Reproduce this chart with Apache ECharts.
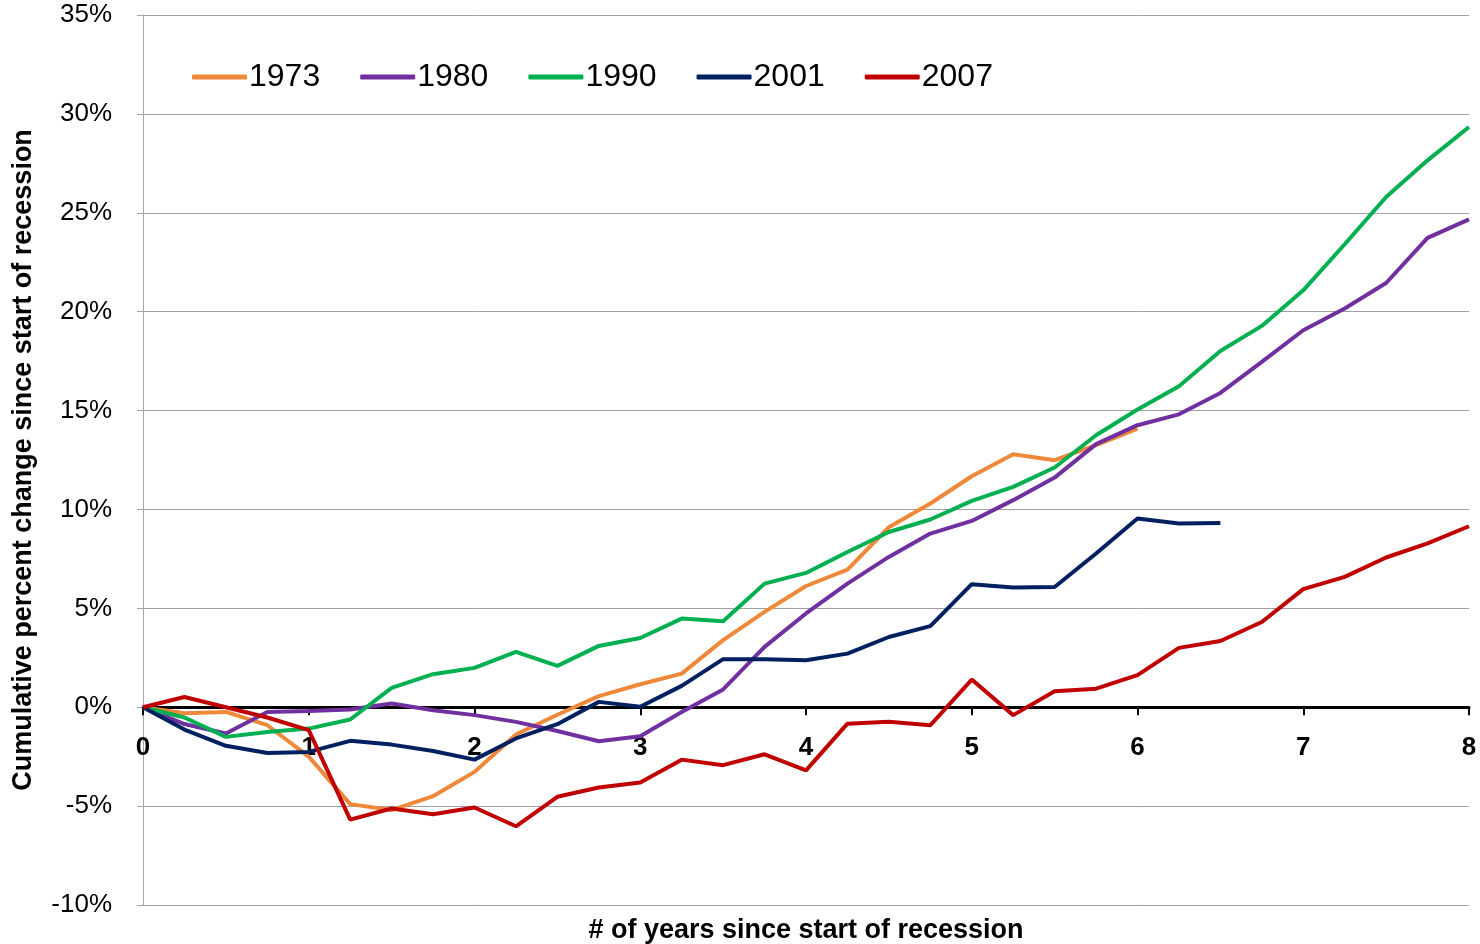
<!DOCTYPE html>
<html>
<head>
<meta charset="utf-8">
<script src="https://cdn.jsdelivr.net/npm/echarts@6/dist/echarts.min.js"></script>
<style>
  html, body { margin: 0; padding: 0; background: #fff; }
  #chart { width: 1480px; height: 944px; }
</style>
</head>
<body>
<div id="chart"></div>
<script>
// quarterly steps, 0 .. 8 years since start of recession
const quarterStep = 0.25;
const seriesNames = ["1973", "1980", "1990", "2001", "2007"];
const seriesColors = ["#F0883A", "#7030A0", "#00B050", "#002060", "#C00000"];

// cumulative % change since start of recession, one value per quarter
const v1973 = [0, -0.3, -0.24, -0.91, -2.5, -4.9, -5.2, -4.5, -3.27, -1.38, -0.38, 0.56, 1.16, 1.7, 3.39, 4.82,
  6.13, 6.96, 9.1, 10.3, 11.68, 12.79, 12.49, 13.25, 14.09];
const v1980 = [0, -0.85, -1.33, -0.24, -0.19, -0.12, 0.19, -0.15, -0.4, -0.74, -1.2, -1.72, -1.47, -0.24, 0.9, 3.05,
  4.74, 6.25, 7.6, 8.78, 9.42, 10.47, 11.61, 13.3, 14.26, 14.81, 15.89, 17.46, 19.06, 20.16, 21.45, 23.73, 24.67];
const v1990 = [0, -0.52, -1.5, -1.25, -1.08, -0.62, 0.98, 1.67, 1.99, 2.8, 2.09, 3.1, 3.5, 4.48, 4.35, 6.25,
  6.79, 7.85, 8.86, 9.49, 10.43, 11.14, 12.12, 13.75, 15.05, 16.23, 18.01, 19.28, 21.08, 23.41, 25.8, 27.65, 29.34];
const v2001 = [0, -1.13, -1.95, -2.31, -2.26, -1.7, -1.89, -2.21, -2.65, -1.58, -0.86, 0.27, 0.02, 1.08, 2.43, 2.43,
  2.38, 2.71, 3.55, 4.1, 6.22, 6.05, 6.08, 7.77, 9.54, 9.29, 9.32];
const v2007 = [0, 0.52, 0, -0.52, -1.16, -5.68, -5.12, -5.41, -5.07, -6.02, -4.53, -4.06, -3.81, -2.65, -2.93, -2.38,
  -3.19, -0.83, -0.74, -0.91, 1.4, -0.4, 0.81, 0.94, 1.62, 3.0, 3.35, 4.31, 5.97, 6.59, 7.57, 8.28, 9.15];

const allValues = [v1973, v1980, v1990, v2001, v2007];

const xTicks = [0, 1, 2, 3, 4, 5, 6, 7, 8];
const yTicks = [-10, -5, 0, 5, 10, 15, 20, 25, 30, 35];

const FONT = "'Liberation Sans', Arial, sans-serif";

const chart = echarts.init(document.getElementById("chart"), null, { renderer: "canvas" });

chart.setOption({
  animation: false,
  textStyle: { fontFamily: FONT },
  grid: { left: 143, right: 11, top: 15, bottom: 39, containLabel: false, outerBoundsMode: "none" },
  legend: {
    left: 187,
    top: 56,
    icon: "roundRect",
    itemWidth: 55,
    itemHeight: 5,
    itemGap: 40,
    textStyle: { fontSize: 32, color: "#000", fontFamily: FONT, padding: [0, 0, 0, -3] },
    data: seriesNames,
  },
  xAxis: {
    type: "value",
    min: xTicks[0],
    max: xTicks[xTicks.length - 1],
    interval: 1,
    axisLine: { onZero: true, lineStyle: { color: "#000", width: 3 } },
    axisTick: { show: true, length: 8, lineStyle: { color: "#000", width: 2 } },
    // labels stay at the grid edge, pull them up under the zero line
    axisLabel: { color: "#000", fontSize: 26, fontWeight: "bold", margin: -170 },
    splitLine: { show: false },
    name: "# of years since start of recession",
    nameLocation: "middle",
    nameGap: 12,
    nameTextStyle: { color: "#000", fontSize: 27, fontWeight: "bold" },
  },
  yAxis: {
    type: "value",
    min: yTicks[0],
    max: yTicks[yTicks.length - 1],
    interval: 5,
    axisLine: { show: true, onZero: false, lineStyle: { color: "#a6a6a6", width: 1 } },
    axisTick: { show: true, length: 6, lineStyle: { color: "#a6a6a6" } },
    axisLabel: { color: "#000", fontSize: 26, margin: 31, formatter: "{value}%" },
    splitLine: { lineStyle: { color: "#a0a0a0", width: 1 } },
    name: "Cumulative percent change since start of recession",
    nameLocation: "middle",
    nameGap: 106,
    nameTextStyle: { color: "#000", fontSize: 27, fontWeight: "bold" },
  },
  series: seriesNames.map((name, k) => ({
    name,
    type: "line",
    symbol: "none",
    color: seriesColors[k],
    lineStyle: { width: 4, color: seriesColors[k] },
    data: allValues[k].map((v, i) => [i * quarterStep, v]),
  })),
});
</script>
</body>
</html>
